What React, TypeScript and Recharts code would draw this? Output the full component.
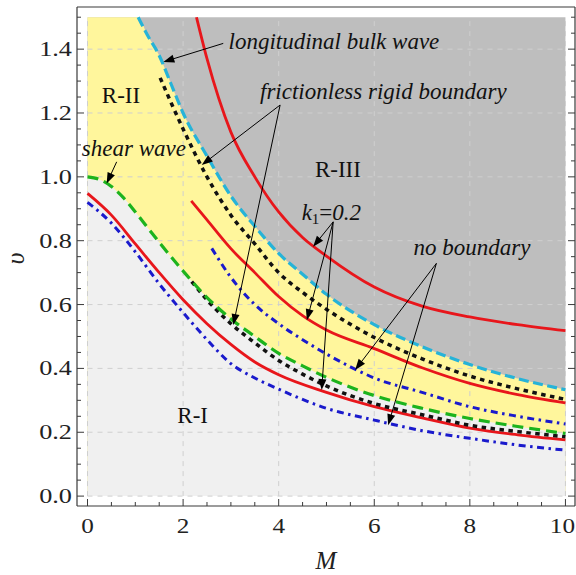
import React from 'react';
import { ComposedChart, Line, Area, XAxis, YAxis, ReferenceLine, ReferenceDot } from 'recharts';

// ---------- data ----------
const xTicks = [0, 0.5, 1, 1.5, 2, 2.5, 3, 3.5, 4, 4.5, 5, 5.5, 6, 6.5, 7, 7.5, 8, 8.5, 9, 9.5, 10];
const xMajorTicks = [0, 2, 4, 6, 8, 10];
const yTicks = [0, 0.05, 0.1, 0.15, 0.2, 0.25, 0.3, 0.35, 0.4, 0.45, 0.5, 0.55, 0.6, 0.65, 0.7, 0.75, 0.8, 0.85, 0.9, 0.95, 1.0, 1.05, 1.1, 1.15, 1.2, 1.25, 1.3, 1.35, 1.4, 1.45, 1.5];
const yMajorTicks = [0, 0.2, 0.4, 0.6, 0.8, 1.0, 1.2, 1.4];
const xGrid = [0, 2, 4, 6, 8, 10];
const yGrid = [0, 0.2, 0.4, 0.6, 0.8, 1.0, 1.2, 1.4];

const regionTop = [{ M: 0, v: 1.5 }, { M: 10, v: 1.5 }];

const longitudinalWave = [
  { M: 1.06, v: 1.5 }, { M: 1.25, v: 1.445 }, { M: 1.5, v: 1.38 }, { M: 1.75, v: 1.29 },
  { M: 2, v: 1.2 }, { M: 2.5, v: 1.065 }, { M: 3, v: 0.94 }, { M: 3.5, v: 0.845 },
  { M: 4, v: 0.76 }, { M: 4.5, v: 0.695 }, { M: 5, v: 0.632 }, { M: 6, v: 0.537 },
  { M: 7, v: 0.468 }, { M: 8, v: 0.412 }, { M: 9, v: 0.368 }, { M: 10, v: 0.333 },
];
const yellowTop = [{ M: 0, v: 1.5 }, ...longitudinalWave];

const shearWave = [
  { M: 0, v: 1.0 }, { M: 0.25, v: 0.992 }, { M: 0.5, v: 0.97 }, { M: 0.75, v: 0.935 },
  { M: 1, v: 0.89 }, { M: 1.5, v: 0.795 }, { M: 2, v: 0.705 }, { M: 2.5, v: 0.622 },
  { M: 3, v: 0.555 }, { M: 3.5, v: 0.5 }, { M: 4, v: 0.447 }, { M: 4.5, v: 0.408 },
  { M: 5, v: 0.372 }, { M: 6, v: 0.315 }, { M: 7, v: 0.275 }, { M: 8, v: 0.243 },
  { M: 9, v: 0.218 }, { M: 10, v: 0.196 },
];

const rigidUpper = [
  { M: 1.52, v: 1.31 }, { M: 2, v: 1.15 }, { M: 2.5, v: 1.0 }, { M: 3, v: 0.88 },
  { M: 3.5, v: 0.79 }, { M: 4, v: 0.7 }, { M: 4.5, v: 0.638 }, { M: 5, v: 0.585 },
  { M: 6, v: 0.497 }, { M: 7, v: 0.43 }, { M: 8, v: 0.376 }, { M: 9, v: 0.336 }, { M: 10, v: 0.303 },
];
const rigidLower = [
  { M: 2.18, v: 0.672 }, { M: 2.5, v: 0.615 }, { M: 3, v: 0.54 }, { M: 3.5, v: 0.48 },
  { M: 4, v: 0.425 }, { M: 4.5, v: 0.382 }, { M: 5, v: 0.345 }, { M: 6, v: 0.29 },
  { M: 7, v: 0.255 }, { M: 8, v: 0.222 }, { M: 9, v: 0.202 }, { M: 10, v: 0.186 },
];

const k1Upper = [
  { M: 2.28, v: 1.5 }, { M: 2.5, v: 1.37 }, { M: 3, v: 1.14 }, { M: 3.5, v: 1.0 },
  { M: 4, v: 0.89 }, { M: 4.5, v: 0.81 }, { M: 5, v: 0.752 }, { M: 6, v: 0.655 },
  { M: 7, v: 0.595 }, { M: 8, v: 0.561 }, { M: 9, v: 0.537 }, { M: 10, v: 0.518 },
];
const k1Middle = [
  { M: 2.17, v: 0.925 }, { M: 2.5, v: 0.865 }, { M: 3, v: 0.775 }, { M: 3.5, v: 0.7 },
  { M: 4, v: 0.625 }, { M: 4.5, v: 0.565 }, { M: 5, v: 0.52 }, { M: 6, v: 0.462 },
  { M: 7, v: 0.402 }, { M: 8, v: 0.353 }, { M: 9, v: 0.318 }, { M: 10, v: 0.292 },
];
const k1Lower = [
  { M: 0, v: 0.948 }, { M: 0.5, v: 0.88 }, { M: 1, v: 0.79 }, { M: 1.5, v: 0.7 },
  { M: 2, v: 0.615 }, { M: 2.5, v: 0.54 }, { M: 3, v: 0.475 }, { M: 3.5, v: 0.42 },
  { M: 4, v: 0.38 }, { M: 5, v: 0.325 }, { M: 6, v: 0.28 }, { M: 7, v: 0.245 },
  { M: 8, v: 0.213 }, { M: 9, v: 0.192 }, { M: 10, v: 0.176 },
];

const noBoundaryUpper = [
  { M: 2.6, v: 0.776 }, { M: 3, v: 0.685 }, { M: 3.5, v: 0.6 }, { M: 4, v: 0.54 },
  { M: 4.5, v: 0.49 }, { M: 5, v: 0.445 }, { M: 5.5, v: 0.405 }, { M: 6, v: 0.37 },
  { M: 7, v: 0.325 }, { M: 8, v: 0.28 }, { M: 9, v: 0.25 }, { M: 10, v: 0.226 },
];
const noBoundaryLower = [
  { M: 0, v: 0.92 }, { M: 0.5, v: 0.855 }, { M: 1, v: 0.765 }, { M: 1.5, v: 0.665 },
  { M: 2, v: 0.575 }, { M: 2.5, v: 0.49 }, { M: 3, v: 0.415 }, { M: 3.5, v: 0.37 },
  { M: 4, v: 0.335 }, { M: 5, v: 0.275 }, { M: 6, v: 0.238 }, { M: 7, v: 0.205 },
  { M: 8, v: 0.181 }, { M: 9, v: 0.16 }, { M: 10, v: 0.144 },
];

// annotation arrows (data coordinates: from -> to)
const arrows = [
  { from: { x: 2.84, y: 1.418 }, to: { x: 1.586, y: 1.36 } },
  { from: { x: 4.03, y: 1.225 }, to: { x: 2.39, y: 1.037 } },
  { from: { x: 4.03, y: 1.225 }, to: { x: 3.05, y: 0.536 } },
  { from: { x: 0.61, y: 1.047 }, to: { x: 0.4, y: 0.979 } },
  { from: { x: 5.14, y: 0.859 }, to: { x: 4.72, y: 0.781 } },
  { from: { x: 5.14, y: 0.859 }, to: { x: 4.59, y: 0.551 } },
  { from: { x: 5.14, y: 0.859 }, to: { x: 4.9, y: 0.332 } },
  { from: { x: 7.3, y: 0.729 }, to: { x: 5.6, y: 0.395 } },
  { from: { x: 7.3, y: 0.729 }, to: { x: 6.29, y: 0.222 } },
];

const italicNotes = [
  { text: 'longitudinal bulk wave', x: 2.95, y: 1.402 },
  { text: 'frictionless rigid boundary', x: 3.61, y: 1.245 },
  { text: 'shear wave', x: -0.12, y: 1.065 },
  { text: 'no boundary', x: 6.82, y: 0.755 },
];
const regionNotes = [
  { text: 'R-II', x: 0.7, y: 1.23 },
  { text: 'R-III', x: 5.24, y: 1.0 },
  { text: 'R-I', x: 2.2, y: 0.228 },
];
const k1Note = { x: 4.48, y: 0.864 };

// ---------- styling ----------
const SERIF = '"Liberation Serif", "Times New Roman", Times, serif';
const FRAME = '#3a3a3a';
const X_DOMAIN: [number, number] = [-0.22, 10.2];
const Y_DOMAIN: [number, number] = [-0.031, 1.532];
const CHART_W = 576;

const near = (list: number[], v: number) => list.some((t) => Math.abs(t - v) < 1e-6);

const BottomTick = (p: any) => {
  const v = p.payload.value;
  const major = near(xMajorTicks, v);
  const label = String(v);
  const halfW = label.length * 6.3;
  const cx = Math.min(p.x, CHART_W - 1 - halfW);
  return (
    <g>
      <line x1={p.x} y1={p.y} x2={p.x} y2={p.y - (major ? 7 : 4)} stroke={FRAME} strokeWidth={1} />
      {major && (
        <text x={0} y={0} transform={`translate(${cx},${p.y + 27}) scale(1.2,1)`} textAnchor="middle" fontFamily={SERIF} fontSize={21} fill="#222">
          {label}
        </text>
      )}
    </g>
  );
};
const TopTick = (p: any) => {
  const major = near(xMajorTicks, p.payload.value);
  return <line x1={p.x} y1={p.y} x2={p.x} y2={p.y + (major ? 7 : 4)} stroke={FRAME} strokeWidth={1} />;
};
const LeftTick = (p: any) => {
  const v = p.payload.value;
  const major = near(yMajorTicks, v);
  return (
    <g>
      <line x1={p.x} y1={p.y} x2={p.x + (major ? 7 : 4)} y2={p.y} stroke={FRAME} strokeWidth={1} />
      {major && (
        <text x={0} y={0} transform={`translate(${p.x - 5},${p.y + 7}) scale(1.25,1)`} textAnchor="end" fontFamily={SERIF} fontSize={21} fill="#222">
          {v.toFixed(1)}
        </text>
      )}
    </g>
  );
};
const RightTick = (p: any) => {
  const major = near(yMajorTicks, p.payload.value);
  return <line x1={p.x} y1={p.y} x2={p.x - (major ? 7 : 4)} y2={p.y} stroke={FRAME} strokeWidth={1} />;
};

const arrowShape = (p: any) => {
  const { x1, y1, x2, y2 } = p;
  const dx = x2 - x1;
  const dy = y2 - y1;
  const len = Math.hypot(dx, dy) || 1;
  const ux = dx / len;
  const uy = dy / len;
  const hl = 11;
  const hw = 4;
  const bx = x2 - ux * hl;
  const by = y2 - uy * hl;
  const pts = `${x2},${y2} ${bx - uy * hw},${by + ux * hw} ${bx + uy * hw},${by - ux * hw}`;
  return (
    <g>
      <line x1={x1} y1={y1} x2={bx + ux * 2} y2={by + uy * 2} stroke="#000" strokeWidth={1} />
      <polygon points={pts} fill="#000" />
    </g>
  );
};

const noteShape = (text: string, italic: boolean, anchor: string) => (p: any) => (
  <text x={p.cx} y={p.cy} textAnchor={anchor} fontFamily={SERIF} fontStyle={italic ? 'italic' : 'normal'} fontSize={23} fill="#111">
    {text}
  </text>
);

const k1Shape = (p: any) => (
  <text x={p.cx} y={p.cy} fontFamily={SERIF} fontSize={23} fill="#111">
    <tspan fontStyle="italic">k</tspan>
    <tspan fontSize={15} dy={4}>1</tspan>
    <tspan dy={-4}>=</tspan>
    <tspan fontStyle="italic">0.2</tspan>
  </text>
);

const lineCommon = { type: 'monotone' as const, dataKey: 'v', dot: false, activeDot: false, isAnimationActive: false, legendType: 'none' as const };

export default function App() {
  return (
    <div style={{ position: 'absolute', left: 0, top: 0, width: 576, height: 575, background: '#fff' }}>
      <ComposedChart width={CHART_W} height={575} margin={{ top: 6, right: 0, bottom: 0, left: 7 }}>
        <XAxis
          dataKey="M"
          type="number"
          domain={X_DOMAIN}
          allowDataOverflow
          ticks={xTicks}
          interval={0}
          tickSize={0}
          tickMargin={0}
          tickLine={false}
          tick={<BottomTick />}
          height={69}
          axisLine={{ stroke: FRAME, strokeWidth: 1.2 }}
          label={{
            content: (p: any) => (
              <text x={p.viewBox.x + p.viewBox.width / 2} y={p.viewBox.y + 63} textAnchor="middle" fontFamily={SERIF} fontStyle="italic" fontSize={25} fill="#222">
                M
              </text>
            ),
          }}
        />
        <XAxis
          xAxisId="top"
          orientation="top"
          type="number"
          domain={X_DOMAIN}
          allowDataOverflow
          ticks={xTicks}
          interval={0}
          tickSize={0}
          tickMargin={0}
          tickLine={false}
          tick={<TopTick />}
          height={1}
          axisLine={{ stroke: FRAME, strokeWidth: 1.2 }}
        />
        <YAxis
          type="number"
          domain={Y_DOMAIN}
          allowDataOverflow
          ticks={yTicks}
          interval={0}
          tickSize={0}
          tickMargin={0}
          tickLine={false}
          tick={<LeftTick />}
          width={70}
          axisLine={{ stroke: FRAME, strokeWidth: 1.2 }}
          label={{
            content: (p: any) => {
              const cx = p.viewBox.x + 8;
              const cy = p.viewBox.y + p.viewBox.height / 2 + 2;
              return (
                <text x={cx} y={cy} transform={`rotate(-90, ${cx}, ${cy})`} textAnchor="middle" dominantBaseline="central" fontFamily={SERIF} fontStyle="italic" fontSize={26} fill="#222">
                  υ
                </text>
              );
            },
          }}
        />
        <YAxis
          yAxisId="right"
          orientation="right"
          type="number"
          domain={Y_DOMAIN}
          allowDataOverflow
          ticks={yTicks}
          interval={0}
          tickSize={0}
          tickMargin={0}
          tickLine={false}
          tick={<RightTick />}
          width={1}
          axisLine={{ stroke: FRAME, strokeWidth: 1.2 }}
        />

        {/* regions */}
        <Area data={regionTop} type="linear" dataKey="v" baseValue={0} fill="#bebebe" fillOpacity={1} stroke="none" isAnimationActive={false} dot={false} activeDot={false} />
        <Area data={yellowTop} type="monotone" dataKey="v" baseValue={0} fill="#fff69c" fillOpacity={1} stroke="none" isAnimationActive={false} dot={false} activeDot={false} />
        <Area data={shearWave} type="monotone" dataKey="v" baseValue={0} fill="#f0f0f0" fillOpacity={1} stroke="none" isAnimationActive={false} dot={false} activeDot={false} />

        {/* grid */}
        {xGrid.map((g) => (
          <ReferenceLine key={`gx${g}`} segment={[{ x: g, y: 0 }, { x: g, y: 1.5 }]} stroke="#cfcfcf" strokeWidth={1} strokeDasharray="5 5" />
        ))}
        {yGrid.map((g) => (
          <ReferenceLine key={`gy${g}`} segment={[{ x: 0, y: g }, { x: 10, y: g }]} stroke="#cfcfcf" strokeWidth={1} strokeDasharray="5 5" />
        ))}

        {/* curves */}
        <Line {...lineCommon} data={noBoundaryLower} stroke="#1a1acc" strokeWidth={3} strokeDasharray="7 4.5 2.5 4.5" />
        <Line {...lineCommon} data={noBoundaryUpper} stroke="#1a1acc" strokeWidth={3} strokeDasharray="7 4.5 2.5 4.5" />
        <Line {...lineCommon} data={k1Lower} stroke="#e8161b" strokeWidth={2.8} />
        <Line {...lineCommon} data={rigidLower} stroke="#111" strokeWidth={3.5} strokeDasharray="4.5 4.5" />
        <Line {...lineCommon} data={shearWave} stroke="#1db31d" strokeWidth={3.2} strokeDasharray="11 6" />
        <Line {...lineCommon} data={k1Middle} stroke="#e8161b" strokeWidth={2.8} />
        <Line {...lineCommon} data={rigidUpper} stroke="#111" strokeWidth={3.5} strokeDasharray="4.5 4.5" />
        <Line {...lineCommon} data={longitudinalWave} stroke="#26b3d8" strokeWidth={3.2} strokeDasharray="10 4.5" />
        <Line {...lineCommon} data={k1Upper} stroke="#e8161b" strokeWidth={2.8} />

        {/* arrows */}
        {arrows.map((a, i) => (
          <ReferenceLine key={`ar${i}`} segment={[a.from, a.to]} shape={arrowShape} />
        ))}

        {/* text notes */}
        {italicNotes.map((n) => (
          <ReferenceDot key={n.text} x={n.x} y={n.y} r={0} shape={noteShape(n.text, true, 'start')} />
        ))}
        {regionNotes.map((n) => (
          <ReferenceDot key={n.text} x={n.x} y={n.y} r={0} shape={noteShape(n.text, false, 'middle')} />
        ))}
        <ReferenceDot x={k1Note.x} y={k1Note.y} r={0} shape={k1Shape} />
      </ComposedChart>
    </div>
  );
}
